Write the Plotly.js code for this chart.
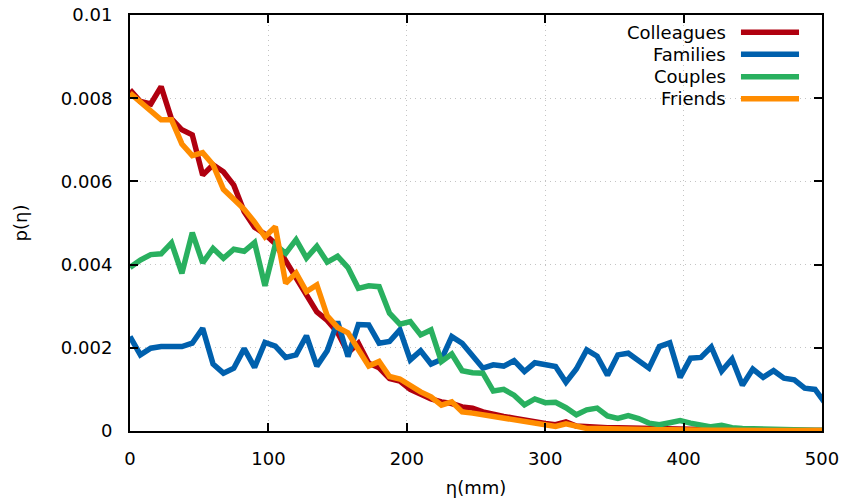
<!DOCTYPE html>
<html>
<head>
<meta charset="utf-8">
<script src="https://cdn.plot.ly/plotly-3.0.1.min.js"></script>
<style>html,body{margin:0;padding:0;background:#fff;}#chart{width:846px;height:504px;}</style>
</head>
<body>
<div id="chart"></div>
<script>
var eta = [0,7.5,15,22.5,30,37.5,45,52.5,60,67.5,75,82.5,90,97.5,105,112.5,120,127.5,135,142.5,150,157.5,165,172.5,180,187.5,195,202.5,210,217.5,225,232.5,240,247.5,255,262.5,270,277.5,285,292.5,300,307.5,315,322.5,330,337.5,345,352.5,360,367.5,375,382.5,390,397.5,405,412.5,420,427.5,435,442.5,450,457.5,465,472.5,480,487.5,495,502.5];

var colleagues = [0.00820,0.00792,0.00786,0.00828,0.00750,0.00724,0.00712,0.00615,0.00640,0.00623,
0.00591,0.00527,0.00490,0.00473,0.00450,0.00410,0.00371,0.00329,0.00286,0.00266,
0.00237,0.00188,0.00211,0.00163,0.00152,0.00126,0.00120,0.00100,0.00087,0.00077,
0.00070,0.00066,0.00058,0.00055,0.00046,0.00039,0.00035,0.00031,0.00026,0.00023,
0.00018,0.00015,0.00022,0.00012,0.00010,0.00010,0.00008,0.00008,0.00007,0.00006,
0.00006,0.00005,0.00005,0.00005,0.00004,0.00004,0.00003,0.00003,0.00003,0.00003,
0.00002,0.00002,0.00002,0.00002,0.00002,0.00001,0.00001,0.00001];

var families = [0.00227,0.00183,0.00199,0.00203,0.00203,0.00203,0.00211,0.00247,0.00161,0.00139,
0.00151,0.00198,0.00153,0.00213,0.00204,0.00177,0.00183,0.00229,0.00156,0.00193,
0.00263,0.00179,0.00256,0.00255,0.00211,0.00215,0.00243,0.00171,0.00193,0.00161,
0.00172,0.00227,0.00211,0.00182,0.00151,0.00159,0.00156,0.00169,0.00143,0.00164,
0.00161,0.00155,0.00117,0.00149,0.00195,0.00180,0.00134,0.00183,0.00187,0.00170,
0.00151,0.00203,0.00212,0.00129,0.00175,0.00177,0.00202,0.00144,0.00173,0.00110,
0.00149,0.00129,0.00145,0.00127,0.00123,0.00103,0.00100,0.00066];

var couples = [0.00393,0.00411,0.00424,0.00426,0.00452,0.00379,0.00477,0.00404,0.00439,0.00415,
0.00437,0.00432,0.00453,0.00349,0.00448,0.00427,0.00460,0.00416,0.00444,0.00406,
0.00420,0.00393,0.00343,0.00349,0.00347,0.00283,0.00257,0.00263,0.00231,0.00243,
0.00167,0.00185,0.00145,0.00140,0.00139,0.00096,0.00100,0.00086,0.00063,0.00077,
0.00068,0.00069,0.00056,0.00039,0.00051,0.00055,0.00036,0.00030,0.00037,0.00030,
0.00019,0.00015,0.00020,0.00025,0.00019,0.00015,0.00010,0.00014,0.00008,0.00006,
0.00005,0.00004,0.00004,0.00003,0.00003,0.00003,0.00002,0.00002];

var friends = [0.00812,0.00792,0.00772,0.00748,0.00748,0.00690,0.00662,0.00669,0.00640,0.00581,
0.00557,0.00533,0.00502,0.00467,0.00491,0.00355,0.00380,0.00335,0.00351,0.00277,
0.00249,0.00236,0.00196,0.00156,0.00167,0.00131,0.00125,0.00108,0.00094,0.00082,
0.00062,0.00070,0.00046,0.00043,0.00039,0.00035,0.00032,0.00027,0.00023,0.00021,
0.00015,0.00011,0.00017,0.00010,0.00006,0.00006,0.00005,0.00005,0.00004,0.00004,
0.00003,0.00003,0.00003,0.00002,0.00002,0.00002,0.00002,0.00002,0.00001,0.00001,
0.00001,0.00001,0.00001,0.00001,0.00001,0.00001,0.00001,0.00001];

var seriesNames = ["Colleagues","Families","Couples","Friends"];
var seriesData = [colleagues, families, couples, friends];
var seriesColors = ["#b0000f","#0060ad","#29b05f","#ff8c00"];

var xTicks = [0,100,200,300,400,500];
var yTicks = [0,0.002,0.004,0.006,0.008,0.01];
var yTickText = ["0","0.002","0.004","0.006","0.008","0.01"];

var FONT = "DejaVu Sans, sans-serif";

var traces = seriesNames.map(function(n,i){
  return {x: eta, y: seriesData[i], type: "scatter", mode: "lines", name: n,
          line: {color: seriesColors[i], width: 5.5}, showlegend: false};
});

// Custom legend (text left of line sample, right-aligned like the original)
var legY = [0.9584, 0.9055, 0.8517, 0.7988];
var annotations = [];
var shapes = [];
seriesNames.forEach(function(n,i){
  annotations.push({xref:"paper", yref:"paper", x:0.8645, y:legY[i], xanchor:"right", yanchor:"middle",
    text:n, showarrow:false, font:{family:FONT, size:18, color:"#000"}});
  shapes.push({type:"line", xref:"paper", yref:"paper", x0:0.8829, x1:0.9668, y0:legY[i], y1:legY[i],
    line:{color:seriesColors[i], width:5.5}});
});

var axisCommon = {
  showline: true, linecolor: "#000", linewidth: 2, mirror: "ticks",
  ticks: "inside", ticklen: 8, tickwidth: 2, tickcolor: "#000",
  showgrid: true, gridcolor: "#c4c4c4", gridwidth: 1, griddash: "1px,4px",
  zeroline: false, tickfont: {family: FONT, size: 18, color: "#000"}
};

var layout = {
  width: 846, height: 504,
  margin: {l: 130, r: 24, t: 15, b: 73},
  paper_bgcolor: "#fff", plot_bgcolor: "#fff",
  xaxis: Object.assign({}, axisCommon, {
    range: [0, 500], tickvals: xTicks, ticktext: xTicks.map(String),
    ticklabelstandoff: 10,
    title: {text: "η(mm)", font: {family: FONT, size: 18, color: "#000"}, standoff: 14}
  }),
  yaxis: Object.assign({}, axisCommon, {
    range: [0, 0.01], tickvals: yTicks, ticktext: yTickText,
    ticklabelstandoff: 12,
    title: {text: "p(η)", font: {family: FONT, size: 18, color: "#000"}, standoff: 29}
  }),
  annotations: annotations,
  shapes: shapes,
  showlegend: false
};

Plotly.newPlot("chart", traces, layout, {displayModeBar: false, staticPlot: true});
</script>
</body>
</html>
